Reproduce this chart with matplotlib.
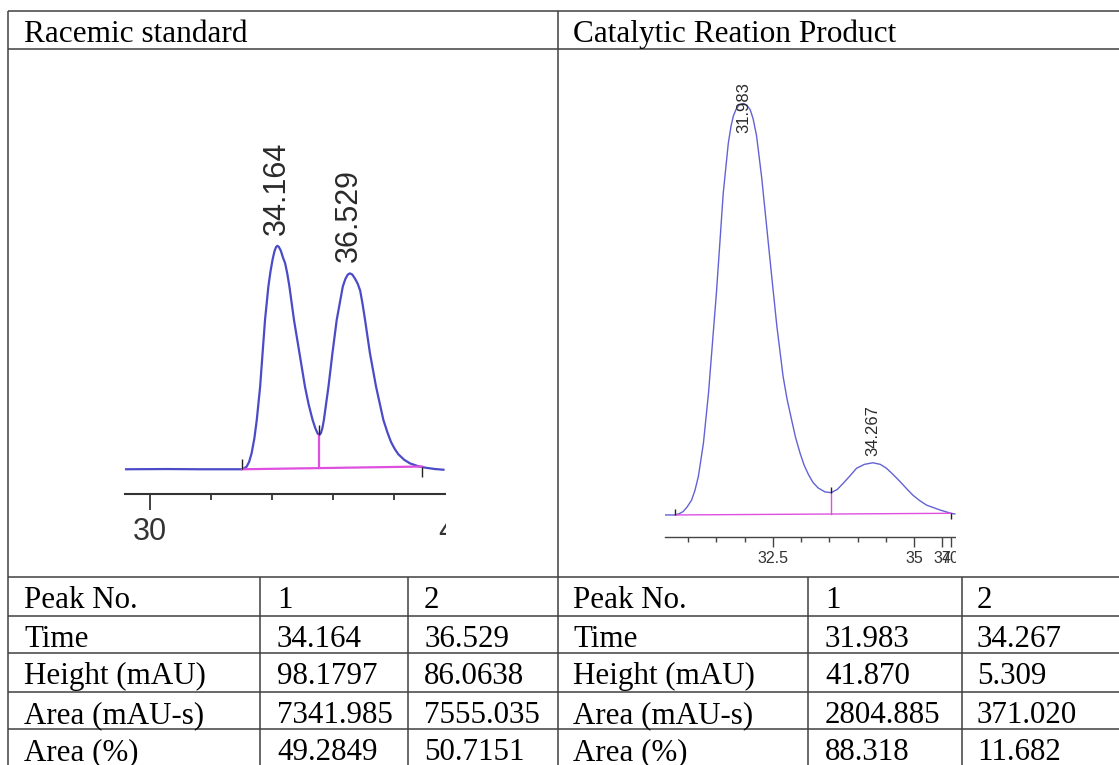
import numpy as np
import matplotlib
matplotlib.use("Agg")
import matplotlib.pyplot as plt
from matplotlib.patches import Rectangle
from matplotlib.path import Path

# 表格数据
row_labels = ["Peak No.", "Time", "Height (mAU)", "Area (mAU-s)", "Area (%)"]
peak_no = [1, 2]

rac_time = [34.164, 36.529]
rac_height = [98.1797, 86.0638]
rac_area = [7341.985, 7555.035]
rac_pct = [49.2849, 50.7151]

cat_time = [31.983, 34.267]
cat_height = [41.870, 5.309]
cat_area = [2804.885, 371.020]
cat_pct = [88.318, 11.682]

# 色谱图曲线 (从图上读出的点, min / mAU)
rac_t = [29.18, 30.55, 31.64, 32.50, 33.01, 33.09, 33.17, 33.25, 33.33, 33.42, 33.50,
         33.61, 33.69, 33.77, 33.88, 33.95, 34.02, 34.08, 34.13, 34.17, 34.22, 34.29,
         34.36, 34.43, 34.50, 34.57, 34.72, 34.90, 35.08, 35.20, 35.33, 35.42, 35.50,
         35.55, 35.60, 35.65, 35.70, 35.85, 35.98, 36.12, 36.32, 36.40, 36.48, 36.55,
         36.63, 36.72, 36.81, 36.89, 36.97, 37.05, 37.21, 37.41, 37.65, 37.78, 37.90,
         38.02, 38.14, 38.33, 38.52, 38.80, 39.07, 39.35, 39.62]
rac_sig = [0.0, 0.1, 0.0, 0.0, 0.0, 0.4, 1.2, 3.3, 7.0, 13.5, 21.7,
           36.3, 51.0, 65.6, 80.3, 87.0, 92.3, 95.8, 97.6, 98.2, 97.8, 96.0,
           93.0, 90.5, 86.0, 80.3, 65.6, 51.0, 36.3, 28.5, 21.7, 18.0, 15.6,
           15.1, 15.8, 18.0, 21.7, 36.3, 51.0, 65.6, 80.3, 83.5, 85.5, 86.1,
           85.6, 83.8, 81.5, 78.5, 72.5, 65.6, 51.0, 36.3, 21.7, 16.3, 12.0,
           9.0, 6.6, 4.2, 2.6, 1.3, 0.6, 0.1, -0.2]
rac_events_t = [33.01, 35.55, 38.91]
rac_events_y = [0.0, 15.1, 1.2]
rac_base_y = [0.0, 1.2]

cat_t = [30.59, 30.77, 30.85, 30.91, 30.98, 31.06, 31.12, 31.18, 31.27, 31.36, 31.43,
         31.50, 31.56, 31.62, 31.71, 31.76, 31.80, 31.85, 31.90, 31.98, 32.04, 32.10,
         32.15, 32.21, 32.30, 32.39, 32.48, 32.57, 32.68, 32.75, 32.83, 32.90, 32.98,
         33.05, 33.13, 33.21, 33.30, 33.42, 33.53, 33.64, 33.74, 33.86, 33.98, 34.12,
         34.27, 34.40, 34.51, 34.63, 34.75, 34.87, 34.98, 35.10, 35.22, 35.46, 35.65,
         35.72]
cat_sig = [0.0, 0.0, 0.15, 0.34, 0.8, 1.5, 2.5, 3.9, 7.3, 12.4, 17.5,
           22.6, 27.6, 32.7, 37.8, 39.6, 40.6, 41.3, 41.7, 41.87, 41.7, 41.2,
           40.3, 38.6, 34.4, 29.3, 24.2, 19.2, 14.1, 11.8, 9.7, 7.9, 6.3,
           5.1, 4.1, 3.3, 2.75, 2.35, 2.27, 2.6, 3.2, 3.95, 4.75, 5.15,
           5.31, 5.15, 4.75, 4.1, 3.4, 2.65, 2.0, 1.45, 1.0, 0.5, 0.17,
           0.1]
cat_events_t = [30.77, 33.53, 35.65]
cat_events_y = [0.0, 2.27, 0.17]
cat_base_y = [0.0, 0.17]

# 坐标轴刻度
rac_major = [30, 40]
rac_major_labels = ["30", "40"]
rac_minor = [32, 34, 36, 38]
cat_major = [32.5, 35, 35.5, 35.65]
cat_major_labels = ["32.5", "35", "37", "40"]
cat_minor = [31, 31.5, 32, 33, 33.5, 34, 34.5]

W, H = 1119, 765
fig = plt.figure(figsize=(W / 100, H / 100), dpi=100)

# 整张图的坐标 (像素)
frame = fig.add_axes([0, 0, 1, 1])
frame.set_xlim(0, W)
frame.set_ylim(H, 0)
frame.axis("off")

line_kw = dict(color="#404040", lw=1.1)
frame.hlines([11, 49, 577, 616, 653, 692, 729], 8, W, **line_kw)
frame.vlines([8, 558], 11, H, **line_kw)
frame.vlines([260, 408, 808, 962], 577, H, **line_kw)

serif = ["Liberation Serif", "DejaVu Serif"]
frame.text(24, 42, "Racemic standard", family=serif, fontsize=22.5, va="baseline")
frame.text(573, 42, "Catalytic Reation Product", family=serif, fontsize=22.5, va="baseline")

rac_cols = [[str(n) for n in peak_no],
            [f"{v:.3f}" for v in rac_time],
            [f"{v:.4f}" for v in rac_height],
            [f"{v:.3f}" for v in rac_area],
            [f"{v:.4f}" for v in rac_pct]]
cat_cols = [[str(n) for n in peak_no],
            [f"{v:.3f}" for v in cat_time],
            [f"{v:.3f}" for v in cat_height],
            [f"{v:.3f}" for v in cat_area],
            [f"{v:.3f}" for v in cat_pct]]
baselines = [608, 647, 684, 723, 760]
for xs, cols in [([24, 277, 424], rac_cols), ([573, 825, 977], cat_cols)]:
    for i, lab in enumerate(row_labels):
        frame.text(xs[0], baselines[i], lab, family=serif, fontsize=22.3, va="baseline")
        for j in range(2):
            frame.text(xs[j + 1], baselines[i], cols[i][j], family=serif,
                       fontsize=22.3, va="baseline")

sans = ["Liberation Sans", "DejaVu Sans"]


def px_axes(x0, y0, x1, y1):
    return fig.add_axes([x0 / W, 1 - y1 / H, (x1 - x0) / W, (y1 - y0) / H])


up = Path([[0, 0], [0, 1]])
down = Path([[0, 0], [0, -1]])


def chromatogram(ax, t, sig, ev_t, ev_y, base_y, peaks_t, peaks_h, axis_y,
                 color, lw, tick_ms, label_fs, label_off, spine_bounds):
    ax.set_facecolor("none")
    ax.plot(t, sig, color=color, lw=lw, solid_joinstyle="round")
    # 积分基线和分割线
    ax.plot([ev_t[0], ev_t[2]], base_y, color="#e050e0", lw=lw)
    b_mid = np.interp(ev_t[1], [ev_t[0], ev_t[2]], base_y)
    ax.plot([ev_t[1], ev_t[1]], [b_mid, ev_y[1]], color="#e050e0", lw=lw)
    ax.plot(ev_t[:2], ev_y[:2], ls="none", marker=up, ms=tick_ms, mec="#222222", mew=1.0)
    ax.plot(ev_t[2:], ev_y[2:], ls="none", marker=down, ms=tick_ms, mec="#222222", mew=1.0)
    for pt, ph, off in zip(peaks_t, peaks_h, label_off):
        ax.annotate(f"{pt:.3f}", (pt, ph), xytext=(0, off), textcoords="offset points",
                    rotation=90, ha="center", va="bottom", fontsize=label_fs,
                    family=sans, color="#2a2a2a")
    for s in ["top", "left", "right"]:
        ax.spines[s].set_visible(False)
    ax.spines["bottom"].set_position(("data", axis_y))
    ax.spines["bottom"].set_bounds(*spine_bounds)
    ax.set_yticks([])


# 左图: Racemic standard
ax1 = px_axes(125, 130, 470, 548)
ax1.set_xlim(29.18, 40.49)
ax1.set_ylim(-34.6, 149.1)
chromatogram(ax1, rac_t, rac_sig, rac_events_t, rac_events_y, rac_base_y,
             rac_time, rac_height, -10.9, "#4b4bc8", 1.6, 14, 22, [8, 8],
             (29.18, 39.67))
ax1.spines["bottom"].set_color("#333333")
ax1.spines["bottom"].set_linewidth(1.5)
ax1.set_xticks(rac_major, rac_major_labels)
ax1.set_xticks(rac_minor, minor=True)
ax1.tick_params(axis="x", which="major", length=11.5, width=1.3, color="#333333",
                labelsize=22, labelcolor="#333333", pad=5)
ax1.tick_params(axis="x", which="minor", length=4.5, width=1.3, color="#333333")
for lab in ax1.get_xticklabels():
    lab.set_family(sans)

# 右图: Catalytic Reation Product
ax2 = px_axes(665, 60, 971, 570)
ax2.set_xlim(30.59, 36.006)
ax2.set_ylim(-5.6, 46.29)
chromatogram(ax2, cat_t, cat_sig, cat_events_t, cat_events_y, cat_base_y,
             cat_time, cat_height, -2.24, "#6262d6", 1.0, 9, 12, [-21, 5],
             (30.59, 35.72))
ax2.spines["bottom"].set_color("#444444")
ax2.spines["bottom"].set_linewidth(1.0)
ax2.set_xticks(cat_major, cat_major_labels)
ax2.set_xticks(cat_minor, minor=True)
ax2.tick_params(axis="x", which="major", length=7, width=1.0, color="#444444",
                labelsize=11.5, labelcolor="#333333", pad=3)
ax2.tick_params(axis="x", which="minor", length=3.5, width=1.0, color="#444444")
for lab in ax2.get_xticklabels():
    lab.set_family(sans)

# 原图截图右侧被裁掉的部分
for x0, x1, y0, y1 in [(445.5, 500, 120, 560), (955.5, 990, 55, 575)]:
    fig.add_artist(Rectangle((x0, y0), x1 - x0, y1 - y0, transform=frame.transData,
                             facecolor="white", edgecolor="none", zorder=5))

fig.savefig("out.png", dpi=100)
